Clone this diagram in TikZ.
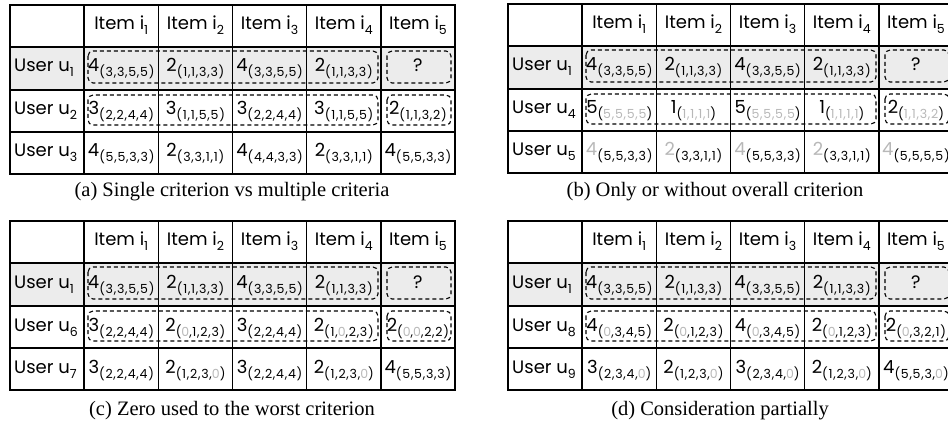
\documentclass[tikz,border=0pt]{standalone}
\usepackage{fontspec}
\setmainfont{Poppins}[Numbers=Monospaced]
\newfontfamily\subfont{Poppins}[Numbers=Monospaced, LetterSpace=6]
\newfontfamily\capfont{Liberation Serif}
\definecolor{rowgray}{gray}{0.925}
\definecolor{faded}{gray}{0.72}
\newcommand\sub[1]{\raisebox{-5pt}{\subfont\fontsize{12.5}{12.5}\selectfont #1}}
\newcommand\score[2]{#1\sub{(#2)}}
\newcommand\fd[1]{\textcolor{faded}{#1}}
\tikzset{
  tabline/.style={line width=1.4pt},
  cell/.style={anchor=base, inner sep=0pt, font=\fontsize{18}{18}\selectfont},
  user/.style={cell, anchor=base west},
  pick/.style={dash pattern=on 4pt off 3pt, line width=1.1pt, rounded corners=5pt},
  subcap/.style={anchor=base, inner sep=0pt, font=\capfont\fontsize{20.5}{20.5}\selectfont}
}
\begin{document}
\begin{tikzpicture}[x=1pt,y=-1pt]
\useasboundingbox (0,0) rectangle (948,422);
\clip (0,0) rectangle (948,422);

% frame, header and first row are the same in all four tables
\foreach \t/\ox/\oy in {a/10/5,b/508/4,c/10/221,d/508/221}{
\begin{scope}[shift={(\ox,\oy)}]
\fill[rowgray] (0,42) rectangle (445,85);
\draw[tabline] (0,0) rectangle (445,169);
\foreach \yy in {42,85,127} \draw[tabline] (0,\yy) -- (445,\yy);
\foreach \c in {1,...,5} \draw[tabline] ({74.17*\c},0) -- ({74.17*\c},169);
\foreach \c in {1,...,5}
  \node[cell] (\t-h\c) at ({74.17*\c+37.08},25) {Item i\sub{\c}};
\node[user] (\t-u1) at (4,67) {User u\sub{1}};
\foreach \c/\val in {1/\score{4}{3,3,5,5},2/\score{2}{1,1,3,3},3/\score{4}{3,3,5,5},4/\score{2}{1,1,3,3},5/?}
  \node[cell] (\t-r1c\c) at ({74.17*\c+37.08},67) {\val};
\draw[pick] (78,46) rectangle (368,78);
\draw[pick] (377,46) rectangle (441,78);
\draw[pick] (78,90) rectangle (368,120);
\draw[pick] (377,90) rectangle (441,120);
\end{scope}
}

% (a)
\begin{scope}[shift={(10,5)}]
\node[user] (a-u2) at (4,110) {User u\sub{2}};
\foreach \c/\val in {1/\score{3}{2,2,4,4},2/\score{3}{1,1,5,5},3/\score{3}{2,2,4,4},4/\score{3}{1,1,5,5},5/\score{2}{1,1,3,2}}
  \node[cell] (a-r2c\c) at ({74.17*\c+37.08},110) {\val};
\node[user] (a-u3) at (4,152) {User u\sub{3}};
\foreach \c/\val in {1/\score{4}{5,5,3,3},2/\score{2}{3,3,1,1},3/\score{4}{4,4,3,3},4/\score{2}{3,3,1,1},5/\score{4}{5,5,3,3}}
  \node[cell] (a-r3c\c) at ({74.17*\c+37.08},152) {\val};
\node[subcap] (a-cap) at (222,192) {(a) Single criterion vs multiple criteria};
\end{scope}

% (b)
\begin{scope}[shift={(508,4)}]
\node[user] (b-u2) at (4,110) {User u\sub{4}};
\foreach \c/\val in {1/\score{5}{\fd{5,5,5,5}},2/\score{1}{\fd{1,1,1,1}},3/\score{5}{\fd{5,5,5,5}},4/\score{1}{\fd{1,1,1,1}},5/\score{2}{\fd{1,1,3,2}}}
  \node[cell] (b-r2c\c) at ({74.17*\c+37.08},110) {\val};
\node[user] (b-u3) at (4,152) {User u\sub{5}};
\foreach \c/\val in {1/\score{\fd{4}}{5,5,3,3},2/\score{\fd{2}}{3,3,1,1},3/\score{\fd{4}}{5,5,3,3},4/\score{\fd{2}}{3,3,1,1},5/\score{\fd{4}}{5,5,5,5}}
  \node[cell] (b-r3c\c) at ({74.17*\c+37.08},152) {\val};
\node[subcap] (b-cap) at (207,193) {(b) Only or without overall criterion};
\end{scope}

% (c)
\begin{scope}[shift={(10,221)}]
\node[user] (c-u2) at (4,110) {User u\sub{6}};
\foreach \c/\val in {1/\score{3}{2,2,4,4},2/\score{2}{\fd{0},1,2,3},3/\score{3}{2,2,4,4},4/\score{2}{1,\fd{0},2,3},5/\score{2}{\fd{0},\fd{0},2,2}}
  \node[cell] (c-r2c\c) at ({74.17*\c+37.08},110) {\val};
\node[user] (c-u3) at (4,152) {User u\sub{7}};
\foreach \c/\val in {1/\score{3}{2,2,4,4},2/\score{2}{1,2,3,\fd{0}},3/\score{3}{2,2,4,4},4/\score{2}{1,2,3,\fd{0}},5/\score{4}{5,5,3,3}}
  \node[cell] (c-r3c\c) at ({74.17*\c+37.08},152) {\val};
\node[subcap] (c-cap) at (222,194) {(c) Zero used to the worst criterion};
\end{scope}

% (d)
\begin{scope}[shift={(508,221)}]
\node[user] (d-u2) at (4,110) {User u\sub{8}};
\foreach \c/\val in {1/\score{4}{\fd{0},3,4,5},2/\score{2}{\fd{0},1,2,3},3/\score{4}{\fd{0},3,4,5},4/\score{2}{\fd{0},1,2,3},5/\score{2}{\fd{0},3,2,1}}
  \node[cell] (d-r2c\c) at ({74.17*\c+37.08},110) {\val};
\node[user] (d-u3) at (4,152) {User u\sub{9}};
\foreach \c/\val in {1/\score{3}{2,3,4,\fd{0}},2/\score{2}{1,2,3,\fd{0}},3/\score{3}{2,3,4,\fd{0}},4/\score{2}{1,2,3,\fd{0}},5/\score{4}{5,5,3,\fd{0}}}
  \node[cell] (d-r3c\c) at ({74.17*\c+37.08},152) {\val};
\node[subcap] (d-cap) at (212,194) {(d) Consideration partially};
\end{scope}
\end{tikzpicture}
\end{document}
